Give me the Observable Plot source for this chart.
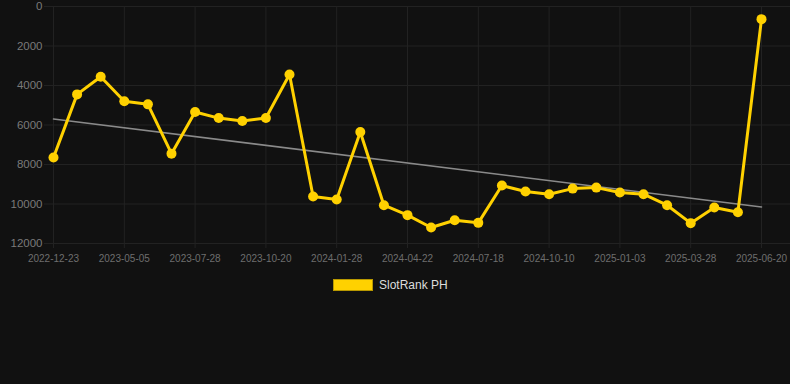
<!DOCTYPE html>
<html>
<head>
<meta charset="utf-8">
<script src="https://cdn.jsdelivr.net/npm/d3@7"></script>
<script src="https://cdn.jsdelivr.net/npm/@observablehq/plot@0.6"></script>
<style>
  html, body { margin: 0; padding: 0; background: #111111; }
  body { width: 790px; height: 384px; position: relative; overflow: hidden; font-family: "Liberation Sans", Arial, sans-serif; }
  #chart { position: absolute; left: 0; top: 0; }
  #legend { position: absolute; left: 333px; top: 278px; display: flex; align-items: center; color: #dddddd; font-size: 12px; }
  #legend .sw { width: 38px; height: 10px; background: #FFD100; border: 1px solid #b89800; margin-right: 6px; }
</style>
</head>
<body>
<div id="chart"></div>
<div id="legend"><span class="sw"></span><span>SlotRank PH</span></div>
<script>
const dates = [
  "2022-12-23","2023-02-06","2023-03-22","2023-05-05","2023-06-02","2023-06-30",
  "2023-07-28","2023-08-25","2023-09-22","2023-10-20","2023-11-22","2023-12-25",
  "2024-01-28","2024-02-25","2024-03-24","2024-04-22","2024-05-20","2024-06-19",
  "2024-07-18","2024-08-15","2024-09-12","2024-10-10","2024-11-07","2024-12-06",
  "2025-01-03","2025-01-31","2025-02-28","2025-03-28","2025-04-25","2025-05-23",
  "2025-06-20"
];
const ranks = [
  7650, 4450, 3555, 4800, 4955, 7450,
  5340, 5650, 5800, 5650, 3440, 9620,
  9775, 6355, 10060, 10565, 11190, 10820,
  10955, 9065, 9370, 9505, 9220, 9170,
  9420, 9505, 10060, 10970, 10180, 10415,
  640
];
const xTickLabels = [
  "2022-12-23","2023-05-05","2023-07-28","2023-10-20","2024-01-28","2024-04-22",
  "2024-07-18","2024-10-10","2025-01-03","2025-03-28","2025-06-20"
];
const yTicks = [0, 2000, 4000, 6000, 8000, 10000, 12000];
const seriesName = "SlotRank PH";

const data = dates.map((d, i) => ({i, date: d, rank: ranks[i]}));
const xTicks = xTickLabels.map(l => dates.indexOf(l));

const yellow = "#FFD100";
const grid = "#222222";

const chart = Plot.plot({
  width: 790,
  height: 270,
  marginLeft: 44,
  marginRight: 0,
  marginTop: 6,
  marginBottom: 27,
  style: {background: "transparent", fontFamily: "'Liberation Sans', Arial, sans-serif"},
  x: {type: "linear", domain: [0, dates.length - 1], range: [53, 761]},
  y: {domain: [0, 12000], reverse: true},
  marks: [
    Plot.ruleY(yTicks, {y: d => d, stroke: grid, strokeWidth: 1}),
    Plot.ruleX(xTicks, {x: d => d, y1: 0, y2: 12000, insetBottom: -5, stroke: grid, strokeWidth: 1}),
    Plot.axisY(yTicks, {tickSize: 0, tickPadding: 2, tickFormat: d => String(d), fill: "#7a7a7a", fontSize: 11.5, label: null}),
    Plot.axisX(xTicks, {tickSize: 0, tickPadding: 11, tickFormat: i => dates[i], fill: "#6e6e6e", fontSize: 10, label: null}),
    Plot.linearRegressionY(data, {x: "i", y: "rank", ci: 0, stroke: "#8a8a8a", strokeWidth: 1.6}),
    Plot.line(data, {x: "i", y: "rank", stroke: yellow, strokeWidth: 3, curve: "linear"}),
    Plot.dot(data, {x: "i", y: "rank", r: 5, fill: yellow, stroke: "none"})
  ]
});
document.getElementById("chart").appendChild(chart);
</script>
</body>
</html>
